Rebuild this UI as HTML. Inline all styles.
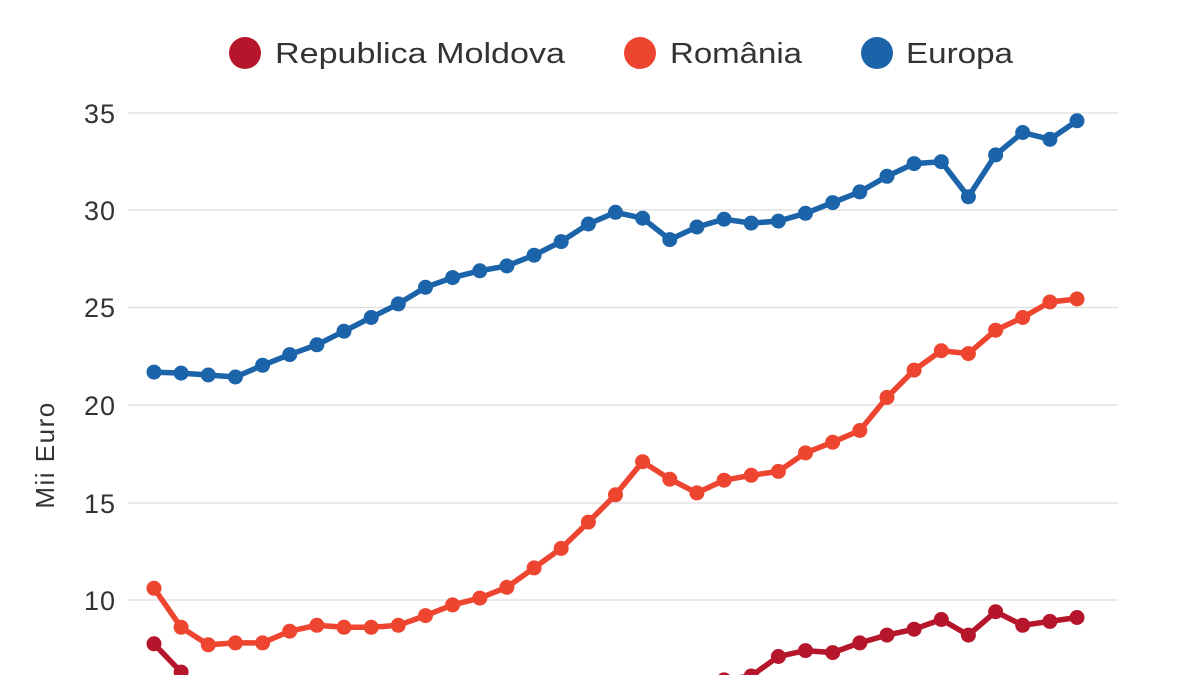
<!DOCTYPE html>
<html><head><meta charset="utf-8"><style>
html,body{margin:0;padding:0;background:#fff;width:1200px;height:675px;overflow:hidden}
svg{display:block}
text{font-family:"Liberation Sans",sans-serif;fill:#333}
</style></head><body>
<svg id="s" width="1200" height="675" viewBox="0 0 1200 675" xmlns="http://www.w3.org/2000/svg" style="overflow:hidden">
<defs><clipPath id="c"><rect x="0" y="0" width="1200" height="675"/></clipPath></defs>
<g stroke="#dddddd" stroke-width="1.2">
<line x1="128" x2="1118" y1="113" y2="113"/>
<line x1="128" x2="1118" y1="210" y2="210"/>
<line x1="128" x2="1118" y1="307.5" y2="307.5"/>
<line x1="128" x2="1118" y1="405" y2="405"/>
<line x1="128" x2="1118" y1="503" y2="503"/>
<line x1="128" x2="1118" y1="600" y2="600"/>
</g>
<g font-size="27" text-anchor="end" letter-spacing="1">
<text x="116" y="123">35</text>
<text x="116" y="220">30</text>
<text x="116" y="317">25</text>
<text x="116" y="415">20</text>
<text x="116" y="513">15</text>
<text x="116" y="610">10</text>
</g>
<text transform="translate(54,455) rotate(-90)" font-size="26" text-anchor="middle" letter-spacing="1.5">Mii Euro</text>
<circle cx="245" cy="53" r="16" fill="#b5162b"/>
<text x="275" y="63" font-size="29" textLength="290" lengthAdjust="spacingAndGlyphs">Republica Moldova</text>
<circle cx="640" cy="53" r="16" fill="#ee4530"/>
<text x="670" y="63" font-size="29" textLength="132" lengthAdjust="spacingAndGlyphs">România</text>
<circle cx="877" cy="53" r="16" fill="#1c64aa"/>
<text x="906" y="63" font-size="29" textLength="107" lengthAdjust="spacingAndGlyphs">Europa</text>
<g id="series" clip-path="url(#c)"></g>
</svg>
<script>
var eu=[21.7,21.65,21.55,21.45,22.05,22.6,23.1,23.8,24.5,25.2,26.05,26.55,26.9,27.15,27.7,28.4,29.3,29.9,29.6,28.5,29.15,29.55,29.35,29.45,29.85,30.4,30.95,31.75,32.4,32.5,30.7,32.85,34.0,33.65,34.6];
var ro=[10.6,8.6,7.7,7.8,7.8,8.4,8.7,8.6,8.6,8.7,9.2,9.75,10.1,10.65,11.65,12.65,14.0,15.4,17.1,16.2,15.5,16.15,16.4,16.6,17.55,18.1,18.7,20.4,21.8,22.8,22.65,23.85,24.5,25.3,25.45];
var md=[7.75,6.3,5.0,4.5,4.3,4.2,4.2,4.3,4.3,4.4,4.5,4.6,4.7,4.8,4.9,5.0,5.2,5.4,5.6,5.2,5.5,5.9,6.1,7.1,7.4,7.3,7.8,8.2,8.5,9.0,8.2,9.4,8.7,8.9,9.1];
function X(i){return 154+i*(1077-154)/34}
function Y(v){return 600-(v-10)*19.48}
var g=document.getElementById('series'),h='';
[[md,'#b5162b'],[ro,'#ee4530'],[eu,'#1c64aa']].forEach(function(s){
 var p=s[0].map(function(v,i){return X(i).toFixed(1)+','+Y(v).toFixed(1)}).join(' ');
 h+='<polyline points="'+p+'" fill="none" stroke="'+s[1]+'" stroke-width="5.5" stroke-linejoin="round"/>';
 s[0].forEach(function(v,i){h+='<circle cx="'+X(i).toFixed(1)+'" cy="'+Y(v).toFixed(1)+'" r="7.5" fill="'+s[1]+'"/>';});
});
g.innerHTML=h;
</script>
</body></html>
